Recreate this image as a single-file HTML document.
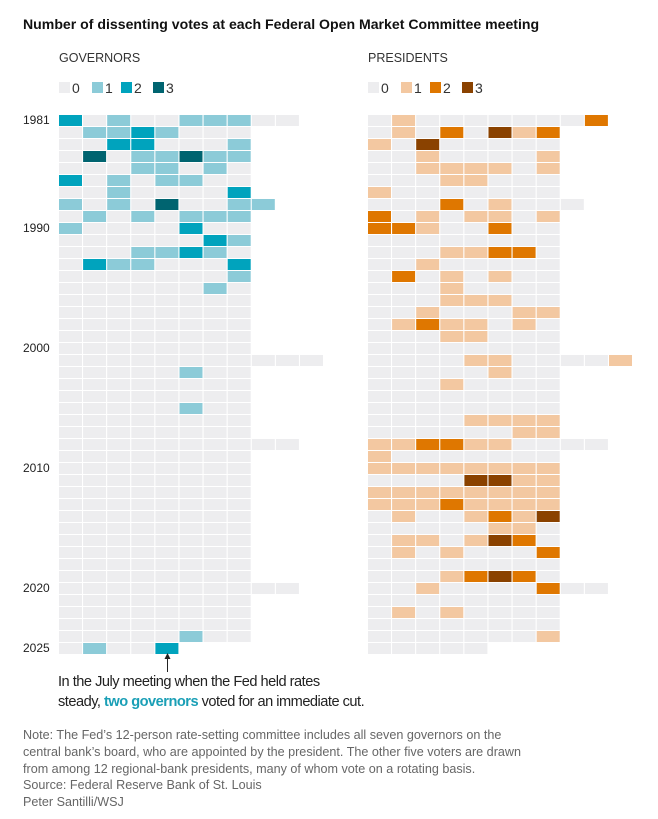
<!DOCTYPE html>
<html><head><meta charset="utf-8">
<style>
body{margin:0;background:#fff;font-family:"Liberation Sans",sans-serif;}
#wrap{position:relative;width:658px;height:819px;overflow:hidden;}
.t{position:absolute;white-space:nowrap;}
</style></head>
<body>
<div id="wrap">
<div class="t" style="left:23px;top:16px;font-size:14.1px;font-weight:bold;color:#111;">Number of dissenting votes at each Federal Open Market Committee meeting</div>
<div class="t" style="left:59px;top:51px;font-size:12.5px;color:#333;">GOVERNORS</div>
<div class="t" style="left:368px;top:51px;font-size:12.5px;color:#333;">PRESIDENTS</div>
<svg id="svg" width="658" height="819" style="position:absolute;left:0;top:0"></svg>
<div class="t" style="left:58px;top:672px;font-size:14.6px;letter-spacing:-0.5px;line-height:20px;color:#222;">In the July meeting when the Fed held rates<br>steady, <b style="color:#1a9fb6">two governors</b> voted for an immediate cut.</div>
<div class="t" style="left:23px;top:727px;font-size:12.6px;line-height:16.8px;color:#666;">Note: The Fed’s 12-person rate-setting committee includes all seven governors on the<br>central bank’s board, who are appointed by the president. The other five voters are drawn<br>from among 12 regional-bank presidents, many of whom vote on a rotating basis.<br>Source: Federal Reserve Bank of St. Louis<br>Peter Santilli/WSJ</div>
</div>
<script>
const years = [];
for (let y = 1981; y <= 2025; y++) years.push(y);
const yearLabels = [1981, 1990, 2000, 2010, 2020, 2025];
const legendValues = [0, 1, 2, 3];
const govColors = ["#ededef", "#8ccbd8", "#00a3bd", "#006470"];
const presColors = ["#ededef", "#f3c8a1", "#df7700", "#8a4200"];
const governors = [
[2,0,1,0,0,1,1,1,0,0],[0,1,1,2,1,0,0,0],[0,0,2,2,0,0,0,1],[0,3,0,1,1,3,1,1],[0,0,0,1,1,0,1,0],
[2,0,1,0,1,1,0,0],[0,0,1,0,0,0,0,2],[1,0,1,0,3,0,0,1,1],[0,1,0,1,0,1,1,1],[1,0,0,0,0,2,0,0],
[0,0,0,0,0,0,2,1],[0,0,0,1,1,2,1,0],[0,2,1,1,0,0,0,2],[0,0,0,0,0,0,0,1],[0,0,0,0,0,0,1,0],
[0,0,0,0,0,0,0,0],[0,0,0,0,0,0,0,0],[0,0,0,0,0,0,0,0],[0,0,0,0,0,0,0,0],[0,0,0,0,0,0,0,0],
[0,0,0,0,0,0,0,0,0,0,0],[0,0,0,0,0,1,0,0],[0,0,0,0,0,0,0,0],[0,0,0,0,0,0,0,0],[0,0,0,0,0,1,0,0],
[0,0,0,0,0,0,0,0],[0,0,0,0,0,0,0,0],[0,0,0,0,0,0,0,0,0,0],[0,0,0,0,0,0,0,0],[0,0,0,0,0,0,0,0],
[0,0,0,0,0,0,0,0],[0,0,0,0,0,0,0,0],[0,0,0,0,0,0,0,0],[0,0,0,0,0,0,0,0],[0,0,0,0,0,0,0,0],
[0,0,0,0,0,0,0,0],[0,0,0,0,0,0,0,0],[0,0,0,0,0,0,0,0],[0,0,0,0,0,0,0,0],[0,0,0,0,0,0,0,0,0,0],
[0,0,0,0,0,0,0,0],[0,0,0,0,0,0,0,0],[0,0,0,0,0,0,0,0],[0,0,0,0,0,1,0,0],[0,1,0,0,2]
];
const presidents = [
[0,1,0,0,0,0,0,0,0,2],[0,1,0,2,0,3,1,2],[1,0,3,0,0,0,0,0],[0,0,1,0,0,0,0,1],[0,0,1,1,1,1,0,1],
[0,0,0,1,1,0,0,0],[1,0,0,0,0,0,0,0],[0,0,0,2,0,1,0,0,0],[2,0,1,0,1,1,0,1],[2,2,1,0,0,2,0,0],
[0,0,0,0,0,0,0,0],[0,0,0,1,1,2,2,0],[0,0,1,0,0,0,0,0],[0,2,0,1,0,1,0,0],[0,0,0,1,0,0,0,0],
[0,0,0,1,1,1,0,0],[0,0,1,0,0,0,1,1],[0,1,2,1,1,0,1,0],[0,0,0,1,1,0,0,0],[0,0,0,0,0,0,0,0],
[0,0,0,0,1,1,0,0,0,0,1],[0,0,0,0,0,1,0,0],[0,0,0,1,0,0,0,0],[0,0,0,0,0,0,0,0],[0,0,0,0,0,0,0,0],
[0,0,0,0,1,1,1,1],[0,0,0,0,0,0,1,1],[1,1,2,2,1,1,0,0,0,0],[1,0,0,0,0,0,0,0],[1,1,1,1,1,1,1,1],
[0,0,0,0,3,3,1,1],[1,1,1,1,1,1,1,1],[1,1,1,2,1,1,1,1],[0,1,0,0,1,2,1,3],[0,0,0,0,0,1,1,0],
[0,1,1,0,1,3,2,0],[0,1,0,1,0,0,0,2],[0,0,0,0,0,0,0,0],[0,0,0,1,2,3,2,0],[0,0,1,0,0,0,0,2,0,0],
[0,0,0,0,0,0,0,0],[0,1,0,1,0,0,0,0],[0,0,0,0,0,0,0,0],[0,0,0,0,0,0,0,1],[0,0,0,0,0]
];
const NS = "http://www.w3.org/2000/svg";
const svg = document.getElementById("svg");
const rowY = i => 115 + i * 12;
const colX = (x0, j) => x0 + j * 24.1;
function mk(tag, attrs) { const e = document.createElementNS(NS, tag); for (const k in attrs) e.setAttribute(k, attrs[k]); svg.appendChild(e); return e; }
function drawGrid(data, x0, colors, name) {
  data.forEach((row, i) => {
    row.forEach((v, j) => {
      const r = mk("rect", {x: colX(x0, j), y: rowY(i), width: 23, height: 11, fill: colors[v]});
      
      
    });
  });
}
drawGrid(governors, 59, govColors, 'governors');
drawGrid(presidents, 368, presColors, 'presidents');
yearLabels.forEach(y => {
  const t = mk("text", {x: 23, y: rowY(years.indexOf(y)) + 9, "font-size": 12, fill: "#222", "font-family": "Liberation Sans, sans-serif"});
  t.textContent = y;
  
  
});
function legend(x0, colors, name) {
  const offs = [0, 33, 62, 94];
  legendValues.forEach((v, k) => {
    const r = mk("rect", {x: x0 + offs[k], y: 82, width: 11, height: 11, fill: colors[v]});
    
    
    const t = mk("text", {x: x0 + offs[k] + 13, y: 93, "font-size": 14, fill: "#333", "font-family": "Liberation Sans, sans-serif"});
    t.textContent = v;
    
    
  });
}
legend(59, govColors, 'governors');
legend(368, presColors, 'presidents');
const ln = mk("line", {x1: 167.5, y1: 672, x2: 167.5, y2: 657, stroke: "#222", "stroke-width": 1});


const ah = mk("path", {d: "M164.5,659 L167.5,653 L170.5,659 Z", fill: "#222"});


</script>
</body></html>
